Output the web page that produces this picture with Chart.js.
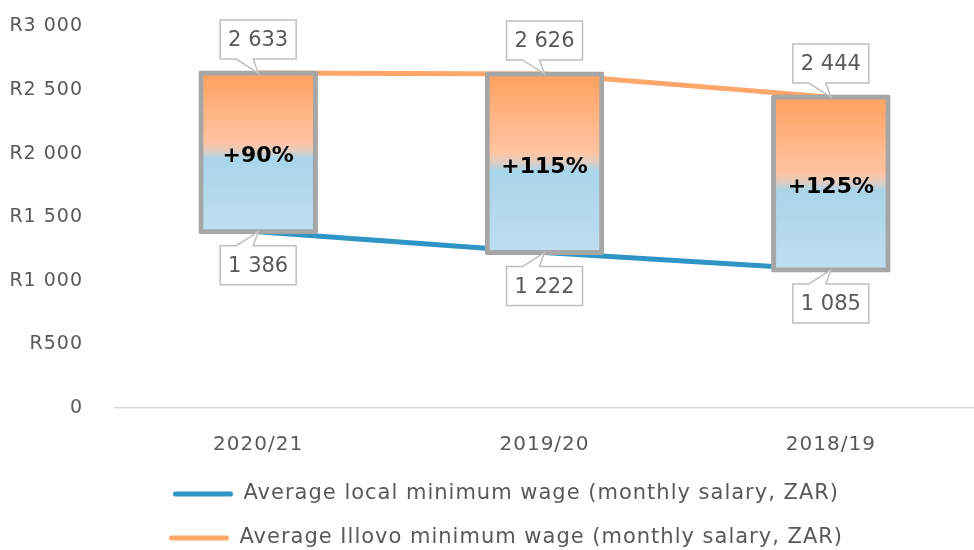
<!DOCTYPE html>
<html>
<head>
<meta charset="utf-8">
<script src="https://cdn.jsdelivr.net/npm/chart.js@4.4.1/dist/chart.umd.min.js"></script>
<style>
  html, body { margin: 0; padding: 0; background: #ffffff; }
  #wrap { width: 974px; height: 550px; }
</style>
</head>
<body>
<div id="wrap"><canvas id="grafico"></canvas></div>
<script>
const anos = ['2020/21', '2019/20', '2018/19'];
const salarioLocal = [1386, 1222, 1085];
const salarioIllovo = [2633, 2626, 2444];
const diferencaPct = ['+90%', '+115%', '+125%'];
const ticksY = [0, 500, 1000, 1500, 2000, 2500, 3000];

const FONTE = '"DejaVu Sans", sans-serif';
const CINZA_TEXTO = '#595959';

function formatarNumero(v) {
    return String(v).replace(/\B(?=(\d{3})+(?!\d))/g, ' ');
}

function gradienteBarra(context) {
    const chart = context.chart;
    if (!chart.chartArea || context.type !== 'data') return '#ffb27f';
    const y = chart.scales.y;
    const v = context.raw;
    const topo = y.getPixelForValue(v[1]);
    const base = y.getPixelForValue(v[0]);
    const g = chart.ctx.createLinearGradient(0, topo, 0, base);
    g.addColorStop(0, '#ffa15e');
    g.addColorStop(0.44, '#ffc4a2');
    g.addColorStop(0.49, '#e2cdc0');
    g.addColorStop(0.54, '#a9d5ea');
    g.addColorStop(1, '#bedef1');
    return g;
}

// caixas de rótulo com "bico" apontando para a barra
function desenharCaixa(ctx, texto, cx, pontaY, acima) {
    const w = 76, h = 39, gap = 14;
    const esq = cx - w / 2;
    const topo = acima ? pontaY - gap - h : pontaY + gap;
    const ladoBico = acima ? topo + h : topo;
    const ladoOposto = acima ? topo : topo + h;
    ctx.save();
    ctx.beginPath();
    ctx.moveTo(esq, ladoOposto);
    ctx.lineTo(esq + w, ladoOposto);
    ctx.lineTo(esq + w, ladoBico);
    ctx.lineTo(cx - 5, ladoBico);
    ctx.lineTo(cx, pontaY);
    ctx.lineTo(cx - 22, ladoBico);
    ctx.lineTo(esq, ladoBico);
    ctx.closePath();
    ctx.fillStyle = '#ffffff';
    ctx.fill();
    ctx.lineWidth = 1.5;
    ctx.strokeStyle = '#bfbfbf';
    ctx.stroke();
    ctx.letterSpacing = '0px';
    ctx.fillStyle = CINZA_TEXTO;
    ctx.font = '21px ' + FONTE;
    ctx.textAlign = 'center';
    ctx.textBaseline = 'middle';
    ctx.fillText(texto, cx, topo + h / 2 + 1);
    ctx.restore();
}

const pluginRotulos = {
    id: 'rotulos',
    beforeUpdate(chart) { chart.ctx.letterSpacing = '1px'; },
    beforeDraw(chart) { chart.ctx.letterSpacing = '1px'; },
    afterLayout(chart) {
        // legenda do original fica um pouco à direita do centro
        chart.legend.left += 19;
        chart.legend.right += 19;
    },
    afterDatasetsDraw(chart) {
        const ctx = chart.ctx;
        const meta = chart.getDatasetMeta(0);
        meta.data.forEach((barra, i) => {
            const topo = barra.y;
            const base = barra.base;
            desenharCaixa(ctx, formatarNumero(salarioIllovo[i]), barra.x, topo, true);
            desenharCaixa(ctx, formatarNumero(salarioLocal[i]), barra.x, base, false);
            ctx.save();
            ctx.letterSpacing = '0px';
            ctx.fillStyle = '#000000';
            ctx.font = 'bold 22px ' + FONTE;
            ctx.textAlign = 'center';
            ctx.textBaseline = 'middle';
            ctx.fillText(diferencaPct[i], barra.x, (topo + base) / 2 + 4);
            ctx.restore();
        });
    }
};

const ctx = document.getElementById('grafico').getContext('2d');
const meuGrafico = new Chart(ctx, {
    data: {
        labels: anos,
        datasets: [
            {
                type: 'bar',
                label: 'diferenca',
                data: anos.map((a, i) => [salarioLocal[i], salarioIllovo[i]]),
                backgroundColor: gradienteBarra,
                borderColor: '#a6a6a6',
                borderWidth: 5,
                borderSkipped: false,
                borderRadius: 2,
                inflateAmount: 2.5,
                barPercentage: 0.8,
                categoryPercentage: 0.5,
                order: 0
            },
            {
                type: 'line',
                label: 'Average local minimum wage (monthly salary, ZAR)',
                data: salarioLocal,
                borderColor: '#2e95c6',
                backgroundColor: '#2e95c6',
                borderWidth: 5,
                pointRadius: 0,
                tension: 0,
                order: 1
            },
            {
                type: 'line',
                label: 'Average Illovo minimum wage (monthly salary, ZAR)',
                data: salarioIllovo,
                borderColor: '#ffa66a',
                backgroundColor: '#ffa66a',
                borderWidth: 5,
                pointRadius: 0,
                tension: 0,
                order: 1
            }
        ]
    },
    options: {
        responsive: true,
        maintainAspectRatio: false,
        animation: false,
        layout: { autoPadding: false, padding: { top: 24, right: 0, left: 0, bottom: -8.5 } },
        plugins: {
            tooltip: { enabled: false },
            legend: {
                position: 'bottom',
                labels: {
                    color: CINZA_TEXTO,
                    font: { family: FONTE, size: 21 },
                    boxWidth: 60,
                    boxHeight: 5,
                    useBorderRadius: true,
                    borderRadius: 2.5,
                    padding: 23,
                    generateLabels(chart) {
                        const itens = Chart.defaults.plugins.legend.labels.generateLabels(chart);
                        return itens.filter(it => it.datasetIndex > 0).map(it => {
                            it.lineWidth = 0;
                            return it;
                        });
                    }
                }
            }
        },
        scales: {
            x: {
                afterFit(scale) { scale.height = 52.5; },
                grid: { display: false },
                border: { display: true, color: '#d9d9d9', width: 1.5 },
                ticks: { color: CINZA_TEXTO, font: { family: FONTE, size: 20 }, padding: 17 }
            },
            y: {
                min: 0,
                max: 3000,
                afterBuildTicks(scale) { scale.ticks = ticksY.map(v => ({ value: v })); },
                afterFit(scale) { scale.width = 115; },
                grid: { display: false, tickLength: 17 },
                border: { display: false },
                ticks: {
                    color: CINZA_TEXTO,
                    font: { family: FONTE, size: 19 },
                    padding: 15,
                    callback: v => v === 0 ? '0' : 'R' + formatarNumero(v)
                }
            }
        }
    },
    plugins: [pluginRotulos]
});
</script>
</body>
</html>
